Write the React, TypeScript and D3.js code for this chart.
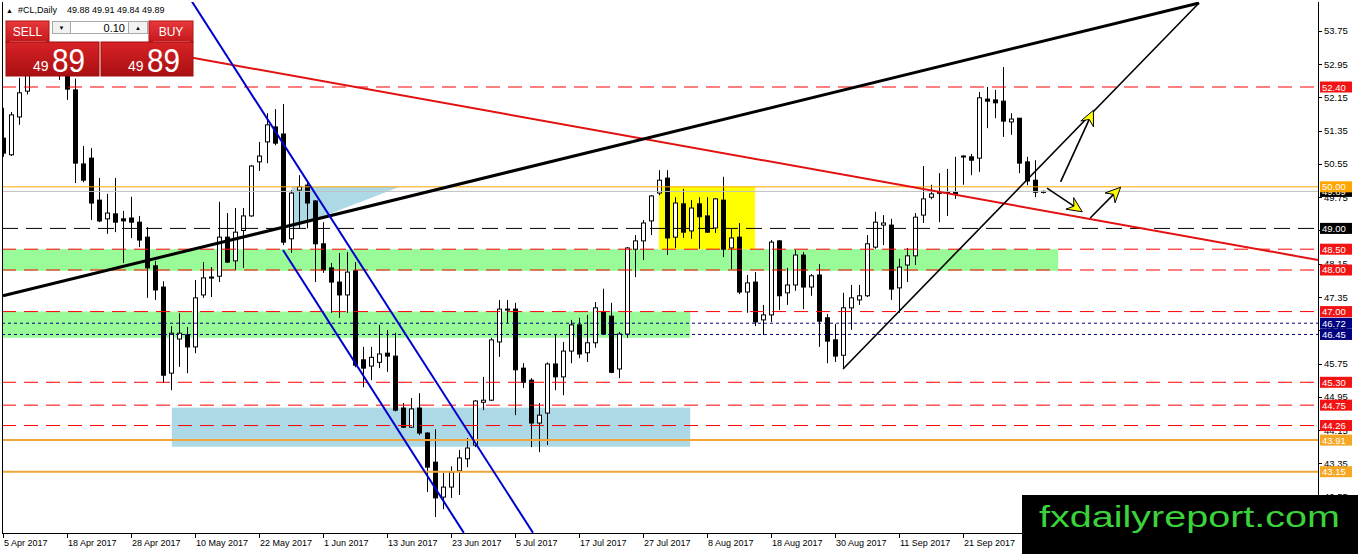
import * as d3 from 'd3';

// ---- data ----
const dateLabels = [
  '5 Apr 2017', '18 Apr 2017', '28 Apr 2017', '10 May 2017', '22 May 2017', '1 Jun 2017',
  '13 Jun 2017', '23 Jun 2017', '5 Jul 2017', '17 Jul 2017', '27 Jul 2017', '8 Aug 2017',
  '18 Aug 2017', '30 Aug 2017', '11 Sep 2017', '21 Sep 2017',
];
const barsPerDateLabel = 8;

const opens = [
  51.17, 50.77, 51.68, 52.3, 52.92, 53.4, 53.15, 53.2, 52.85, 52.33,
  50.55, 50.69, 49.68, 49.23, 49.35, 49.23, 49.25, 49.15, 48.79, 48.1,
  47.59, 45.52, 46.34, 46.44, 46.15, 47.4, 47.83, 47.85, 48.79, 48.22,
  48.95, 49.3, 50.6, 51.08, 51.44, 51.27, 48.75, 49.92, 50.04, 49.66,
  48.63, 48.05, 47.71, 47.4, 47.98, 45.84, 45.69, 45.78, 46.0, 45.93,
  44.68, 44.22, 44.68, 44.08, 43.38, 42.54, 42.78, 43.17, 43.46, 43.79,
  44.82, 44.87, 46.27, 47.04, 47.06, 45.64, 45.35, 44.32, 44.56, 45.74,
  45.43, 46.05, 46.68, 46.01, 46.25, 46.99, 46.89, 45.62, 46.46, 48.5,
  48.7, 49.18, 49.85, 50.21, 48.79, 49.59, 48.94, 49.59, 49.3, 49.01,
  49.68, 48.53, 48.79, 47.47, 47.71, 46.8, 46.92, 48.7, 47.45, 47.64,
  48.36, 47.59, 47.88, 46.85, 46.32, 45.95, 47.09, 47.28, 47.38, 48.55,
  49.08, 49.08, 47.57, 48.12, 48.34, 49.32, 49.75, 49.87, 49.85, 49.87,
  50.74, 50.72, 50.69, 52.11, 52.09, 52.06, 51.56, 51.65, 50.6, 50.16,
  49.88,
];
const highs = [
  51.9, 51.8, 52.62, 53.05, 53.62, 53.76, 53.45, 53.3, 53.0, 52.6,
  50.98, 50.93, 50.21, 49.83, 50.21, 49.42, 49.76, 49.3, 49.03, 48.22,
  47.73, 46.65, 46.96, 46.63, 47.76, 48.19, 48.07, 49.64, 49.37, 49.49,
  49.49, 50.52, 51.08, 51.77, 51.87, 51.99, 49.92, 50.28, 50.16, 49.68,
  49.15, 48.17, 48.41, 48.43, 48.19, 46.15, 46.15, 46.68, 46.56, 46.49,
  44.8, 44.92, 45.04, 44.1, 44.17, 43.12, 43.28, 43.67, 43.96, 44.87,
  45.43, 46.37, 47.28, 47.28, 47.21, 45.76, 45.4, 44.8, 45.78, 46.44,
  46.27, 46.8, 46.85, 46.92, 47.23, 47.55, 47.21, 46.51, 48.55, 48.84,
  49.2, 49.8, 50.4, 50.4, 49.75, 49.95, 49.68, 49.75, 49.75, 49.73,
  50.24, 48.99, 49.13, 47.88, 47.95, 47.16, 48.72, 48.72, 48.05, 48.48,
  48.43, 47.9, 48.14, 46.94, 46.7, 47.45, 47.64, 47.64, 48.84, 49.4,
  49.32, 49.23, 48.27, 48.53, 49.37, 50.5, 50.05, 50.33, 50.43, 50.72,
  50.76, 50.79, 52.28, 52.4, 52.33, 52.88, 51.77, 51.65, 50.72, 50.64,
  49.91,
];
const lows = [
  50.72, 50.74, 51.49, 52.22, 52.8, 53.05, 52.95, 52.57, 52.09, 50.09,
  50.11, 49.2, 49.15, 48.87, 48.91, 48.17, 48.77, 48.55, 47.33, 47.28,
  45.28, 45.11, 45.67, 45.52, 46.0, 47.33, 47.35, 47.71, 48.17, 48.0,
  48.05, 49.28, 50.38, 50.57, 51.0, 48.6, 48.41, 49.0, 49.0, 47.71,
  47.93, 46.97, 46.85, 46.97, 45.66, 45.18, 45.35, 45.64, 45.55, 44.6,
  44.2, 44.2, 44.03, 42.66, 42.06, 42.25, 42.52, 42.59, 43.26, 43.74,
  44.63, 44.85, 45.91, 46.73, 44.51, 45.16, 43.74, 43.62, 43.79, 45.11,
  44.99, 45.76, 45.88, 45.79, 46.13, 46.44, 45.52, 45.4, 46.37, 47.83,
  48.24, 48.84, 49.8, 48.36, 48.53, 48.77, 48.75, 48.51, 48.89, 48.89,
  48.31, 48.02, 47.42, 46.97, 46.65, 46.44, 46.75, 47.04, 47.16, 47.5,
  47.06, 47.38, 46.15, 45.76, 45.79, 45.62, 46.56, 47.16, 47.35, 48.51,
  48.6, 47.28, 46.97, 47.71, 48.12, 49.13, 49.7, 49.15, 49.3, 49.71,
  50.05, 50.28, 50.36, 51.41, 51.65, 51.2, 51.25, 50.33, 50.04, 49.75,
  49.84,
];
const closes = [
  50.81, 51.73, 52.26, 52.92, 53.4, 53.15, 53.2, 52.85, 52.35, 50.57,
  50.16, 49.61, 49.18, 49.37, 49.15, 49.18, 49.15, 48.72, 48.05, 47.52,
  45.47, 46.48, 46.48, 46.15, 47.33, 47.81, 47.81, 48.79, 48.19, 48.91,
  49.3, 50.5, 50.74, 51.49, 51.05, 48.67, 49.85, 50.0, 49.61, 48.63,
  48.0, 47.71, 47.4, 47.95, 45.71, 45.64, 45.9, 45.98, 45.93, 44.63,
  44.22, 44.66, 44.08, 43.26, 42.52, 42.78, 43.14, 43.48, 43.72, 44.85,
  44.87, 46.32, 47.06, 47.06, 45.6, 45.3, 44.32, 44.51, 45.74, 45.43,
  46.05, 46.68, 45.98, 46.25, 47.09, 46.46, 45.54, 46.46, 48.53, 48.7,
  49.13, 49.78, 50.16, 48.77, 49.61, 48.91, 49.49, 49.28, 48.91, 49.71,
  48.5, 48.77, 47.47, 47.69, 46.75, 46.92, 48.67, 47.38, 47.64, 48.36,
  47.59, 47.86, 46.77, 46.29, 45.93, 47.09, 47.33, 47.38, 48.63, 49.15,
  49.13, 47.54, 48.07, 48.34, 49.27, 49.71, 49.83, 49.85, 49.87, 49.82,
  50.74, 50.64, 52.14, 52.06, 52.02, 51.58, 51.63, 50.57, 50.14, 49.87,
  49.89,
];

const priceTicks = [53.75, 52.95, 52.15, 51.35, 50.55, 49.75, 48.95, 48.15, 47.35, 46.55, 45.75, 44.95, 44.15, 43.35, 42.55];

const levelValues = [52.4, 50.0, 49.0, 48.5, 48.0, 47.0, 46.72, 46.45, 45.3, 44.75, 44.26, 43.91, 43.15];
const levelKinds = ['red', 'orange', 'black', 'red', 'red', 'red', 'navy', 'navy', 'red', 'red', 'red', 'orangeThick', 'orangeThick'];
const bidPrice = 49.89;

const symbolName = '#CL,Daily';
const headerOhlc = '49.88 49.91 49.84 49.89';
const lotSize = '0.10';
const sellPrice = ['49', '89'];
const buyPrice = ['49', '89'];
const watermark = 'fxdailyreport.com';

// zones: [fromBar, toBar, topPrice, bottomPrice]
const greenZones = [[0, 131.9, 48.5, 47.98], [0, 85.9, 47.0, 46.37]];
const blueZones = [[21.1, 85.9, 44.69, 43.75]];
const yellowZones = [[82, 94, 50.0, 48.5]];
const blueTriangle = [[36.1, 50.0], [49.6, 50.0], [36.1, 49.0]];

// trend lines: [bar0, price0, bar1, price1]
const blackThick = [0, 47.38, 149.5, 54.42];
const blackThin = [105, 45.62, 149.5, 54.42];
const redTrend = [18, 53.3, 164.4, 48.24];
const channelLines = [[23.5, 54.49, 66.25, 41.68], [35, 48.48, 57.6, 41.68]];
const arrows = [
  [130.5, 49.97, 134.9, 49.4],
  [135.9, 49.25, 139.7, 49.99],
  [132.2, 50.12, 136.3, 51.84],
];

// ---- styles ----
const levelStyle: Record<string, { stroke: string; width: number; dash?: string; box: string }> = {
  red: { stroke: '#ff0000', width: 1, dash: '14,8', box: '#f21414' },
  orange: { stroke: '#ffa500', width: 1, box: '#ffa500' },
  orangeThick: { stroke: '#f0a53a', width: 2, box: '#f5a623' },
  black: { stroke: '#000000', width: 1, dash: '16,8', box: '#000000' },
  navy: { stroke: '#000080', width: 1, dash: '3,3', box: '#000080' },
};

const FONT = '"Liberation Sans", Arial, sans-serif';
const W = 1358;
const H = 554;
const plot = { left: 2, right: 1318, top: 2, bottom: 533 };

export default function App() {
  const x = d3.scaleLinear().domain([0, 164.375]).range([3, 1318]);
  const y = d3.scaleLinear().domain([41.676, 54.444]).range([plot.bottom, plot.top]);

  const seg = (l: number[]) => ({ x1: x(l[0]), y1: y(l[1]), x2: x(l[2]), y2: y(l[3]) });
  const zoneRect = (z: number[]) => ({ x: x(z[0]), y: y(z[2]), width: x(z[1]) - x(z[0]), height: y(z[3]) - y(z[2]) });

  const tri = d3.line<number[]>().x(d => x(d[0])).y(d => y(d[1]));

  const arrowShapes = arrows.map(a => {
    const x1 = x(a[0]), y1 = y(a[1]), x2 = x(a[2]), y2 = y(a[3]);
    const ang = Math.atan2(y2 - y1, x2 - x1);
    const ux = Math.cos(ang), uy = Math.sin(ang);
    const L = 15, hw = 7;
    const bx = x2 - ux * L, by = y2 - uy * L;
    const nx = x2 - ux * (L - 5), ny = y2 - uy * (L - 5);
    const pts = [
      [x2, y2],
      [bx - uy * hw, by + ux * hw],
      [nx, ny],
      [bx + uy * hw, by - ux * hw],
    ];
    return { line: { x1, y1, x2: nx, y2: ny }, head: pts.map(p => p.join(',')).join(' ') };
  });

  const candles = d3.range(opens.length).map(i => {
    const o = opens[i], c = closes[i];
    const cx = Math.round(x(i));
    const top = y(Math.max(o, c));
    const bot = y(Math.min(o, c));
    return { i, cx, top, h: Math.max(1, bot - top), hi: y(highs[i]), lo: y(lows[i]), bull: c >= o };
  });

  const dateTicks = dateLabels.map((label, k) => ({ label, px: Math.round(x(k * barsPerDateLabel)) }));

  return (
    <div style={{ width: W, height: H }}>
      <style>{'body{margin:0;padding:0;overflow:hidden}'}</style>
      <svg width={W} height={H} style={{ display: 'block', fontFamily: FONT }}>
        <defs>
          <clipPath id="plotClip">
            <rect x={plot.left} y={plot.top} width={plot.right - plot.left} height={plot.bottom - plot.top} />
          </clipPath>
          <linearGradient id="btnRed" x1="0" y1="0" x2="0" y2="1">
            <stop offset="0%" stopColor="#e8393b" />
            <stop offset="100%" stopColor="#c3181b" />
          </linearGradient>
          <linearGradient id="bigRed" x1="0" y1="0" x2="0" y2="1">
            <stop offset="0%" stopColor="#d82326" />
            <stop offset="100%" stopColor="#a90f12" />
          </linearGradient>
        </defs>
        <rect x={0} y={0} width={W} height={H} fill="#ffffff" />

        <g clipPath="url(#plotClip)">
          {/* zones */}
          {greenZones.map((z, k) => <rect key={'g' + k} {...zoneRect(z)} fill="#98fb98" />)}
          {blueZones.map((z, k) => <rect key={'b' + k} {...zoneRect(z)} fill="#add8e6" />)}
          {yellowZones.map((z, k) => <rect key={'y' + k} {...zoneRect(z)} fill="#ffff00" />)}
          <path d={tri(blueTriangle) + 'Z'} fill="#add8e6" />

          {/* candles */}
          {candles.map(c => (
            <g key={c.i}>
              <line x1={c.cx + 0.5} x2={c.cx + 0.5} y1={c.hi} y2={c.lo} stroke="#000" strokeWidth={1} />
              <rect x={c.cx - 1.5} y={c.top} width={4} height={c.h} fill={c.bull ? '#fff' : '#000'} stroke="#000" strokeWidth={1} />
            </g>
          ))}

          {/* horizontal levels */}
          <line x1={plot.left} x2={plot.right} y1={y(bidPrice)} y2={y(bidPrice)} stroke="#c0c0c0" strokeWidth={1} />
          {levelValues.map((v, k) => {
            const s = levelStyle[levelKinds[k]];
            return (
              <line key={'l' + k} x1={plot.left} x2={plot.right} y1={y(v)} y2={y(v)}
                stroke={s.stroke} strokeWidth={s.width} strokeDasharray={s.dash} />
            );
          })}

          {/* trend lines */}
          <line {...seg(redTrend)} stroke="#e31010" strokeWidth={2} />
          <line {...seg(blackThick)} stroke="#000" strokeWidth={3} />
          <line {...seg(blackThin)} stroke="#000" strokeWidth={1.6} />
          {channelLines.map((l, k) => <line key={'c' + k} {...seg(l)} stroke="#0000cd" strokeWidth={2} />)}

          {/* arrows */}
          {arrowShapes.map((a, k) => (
            <g key={'a' + k}>
              <line {...a.line} stroke="#000" strokeWidth={1.6} />
              <polygon points={a.head} fill="#ffff00" stroke="#000" strokeWidth={1} strokeLinejoin="round" />
            </g>
          ))}
        </g>

        {/* frame */}
        <line x1={plot.left + 0.5} x2={plot.left + 0.5} y1={plot.top} y2={plot.bottom} stroke="#000" />
        <line x1={plot.right + 0.5} x2={plot.right + 0.5} y1={plot.top} y2={plot.bottom + 1} stroke="#000" />
        <line x1={plot.left} x2={plot.right + 1} y1={plot.bottom + 0.5} y2={plot.bottom + 0.5} stroke="#000" />

        {/* price axis */}
        {priceTicks.map(t => (
          <g key={'t' + t}>
            <line x1={plot.right} x2={plot.right + 4} y1={Math.round(y(t)) + 0.5} y2={Math.round(y(t)) + 0.5} stroke="#000" />
            <text x={plot.right + 6} y={y(t) + 3.5} fontSize={9.5} fill="#000">{t.toFixed(2)}</text>
          </g>
        ))}
        {/* bid label, then level labels */}
        <rect x={plot.right + 2} y={y(bidPrice) - 5.5} width={32} height={11} fill="#000" />
        <text x={plot.right + 4} y={y(bidPrice) + 3.5} fontSize={9.5} fill="#fff">{bidPrice.toFixed(2)}</text>
        {levelValues.map((v, k) => {
          const s = levelStyle[levelKinds[k]];
          return (
            <g key={'lb' + k}>
              <rect x={plot.right + 2} y={y(v) - 5.5} width={32} height={11} fill={s.box} />
              <text x={plot.right + 4} y={y(v) + 3.5} fontSize={9.5} fill="#fff">{v.toFixed(2)}</text>
            </g>
          );
        })}

        {/* date axis */}
        {dateTicks.map(d => (
          <g key={d.label}>
            <line x1={d.px + 0.5} x2={d.px + 0.5} y1={plot.bottom} y2={plot.bottom + 5} stroke="#000" />
            <text x={d.px + 1} y={546} fontSize={9} fill="#000">{d.label}</text>
          </g>
        ))}

        {/* header */}
        <text x={6} y={13} fontSize={7} fill="#000">▲</text>
        <text x={18} y={13} fontSize={9} fill="#000">{symbolName}</text>
        <text x={67} y={13} fontSize={9} fill="#000">{headerOhlc}</text>

        {/* one-click trading panel */}
        <g>
          <rect x={6} y={21} width={43} height={21} fill="url(#btnRed)" stroke="#b01417" />
          <line x1={10} x2={46} y1={41.5} y2={41.5} stroke="#f08080" />
          <text x={27.5} y={36} fontSize={12} fill="#fff" textAnchor="middle">SELL</text>
          <rect x={149} y={21} width={44} height={21} fill="url(#btnRed)" stroke="#b01417" />
          <line x1={153} x2={190} y1={41.5} y2={41.5} stroke="#f08080" />
          <text x={171} y={36} fontSize={12} fill="#fff" textAnchor="middle">BUY</text>

          <rect x={52.5} y={21.5} width={95} height={12} fill="#fff" stroke="#a8a8a8" />
          <rect x={52.5} y={21.5} width={18} height={12} fill="#f2f2f2" stroke="#a8a8a8" />
          <rect x={128.5} y={21.5} width={19} height={12} fill="#f2f2f2" stroke="#a8a8a8" />
          <text x={61.5} y={30} fontSize={6} fill="#000" textAnchor="middle">▼</text>
          <text x={138} y={30} fontSize={6} fill="#000" textAnchor="middle">▲</text>
          <text x={125} y={31.5} fontSize={11} fill="#000" textAnchor="end">{lotSize}</text>

          <rect x={6} y={42} width={93} height={34} fill="url(#bigRed)" stroke="#9e0e10" />
          <text x={33} y={71} fontSize={14} fill="#fff">{sellPrice[0]}</text>
          <text x={52} y={72} fontSize={34} fill="#fff" textLength={33} lengthAdjust="spacingAndGlyphs">{sellPrice[1]}</text>
          <rect x={101} y={42} width={92} height={34} fill="url(#bigRed)" stroke="#9e0e10" />
          <text x={128} y={71} fontSize={14} fill="#fff">{buyPrice[0]}</text>
          <text x={147} y={72} fontSize={34} fill="#fff" textLength={33} lengthAdjust="spacingAndGlyphs">{buyPrice[1]}</text>
        </g>

        {/* watermark */}
        <rect x={1022} y={495} width={W - 1022} height={H - 495} fill="#000" />
        <text x={1039} y={527} fontSize={30} fill="#3cd23c" textLength={301} lengthAdjust="spacingAndGlyphs">{watermark}</text>
      </svg>
    </div>
  );
}
